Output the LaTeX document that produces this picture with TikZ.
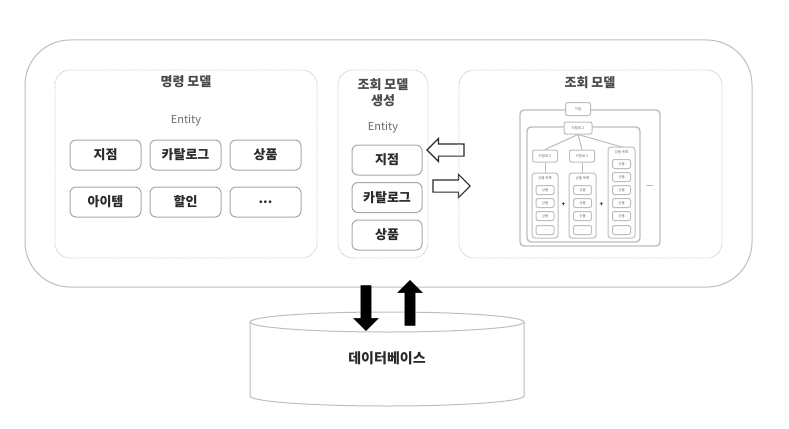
\documentclass[tikz,border=0pt]{standalone}
\usepackage{fontspec}
\setmainfont{Noto Sans CJK KR}
\usetikzlibrary{shapes.arrows}
\definecolor{frameg}{HTML}{BDBDBD}
\definecolor{dashg}{HTML}{C4C4C4}
\definecolor{boxg}{HTML}{A8A8A8}
\definecolor{txtd}{HTML}{2A2A2A}
\definecolor{txtm}{HTML}{4A4A4A}
\definecolor{txtl}{HTML}{6A6A6A}
\tikzset{
  zone/.style={draw=dashg, densely dotted, line width=0.9pt, rounded corners=15pt},
  ttl/.style={text=txtm, font=\fontsize{13}{15}\selectfont\bfseries},
  ent/.style={text=txtl, font=\fontsize{11}{13}\selectfont},
  ebox/.style={draw=boxg, line width=1pt, rounded corners=6pt, fill=white, minimum width=71pt, minimum height=30pt, text=txtd, font=\fontsize{13}{15}\selectfont\bfseries, inner sep=0pt},
  hollow/.style={single arrow, draw=txtd, fill=white, line width=1.1pt, minimum height=37pt, minimum width=22pt, single arrow head extend=5.5pt, inner xsep=0pt, inner ysep=5.5pt},
  solid/.style={single arrow, draw=black, fill=black, minimum height=45pt, minimum width=24pt, single arrow head extend=7pt, inner sep=5pt},
  mline/.style={draw=frameg, line width=1.4pt, rounded corners=4pt},
  mbox/.style={draw=frameg, line width=1pt, rounded corners=2pt, fill=white, text=txtl, font=\fontsize{3.5}{4}\selectfont, inner sep=0pt},
  conn/.style={draw=frameg, line width=1pt},
}
\begin{document}
\begin{tikzpicture}[x=1pt,y=-1pt]
\useasboundingbox (0,0) rectangle (789,428);
\fill[white] (0,0) rectangle (789,428);
% outer frame
\draw[frameg, line width=1pt, rounded corners=45pt] (25,40) rectangle (752,287);
% command model
\draw[zone] (55,70) rectangle (317,258);
\node[ttl] (cmdt) at (186,82) {명령 모델};
\node[ent] (cmde) at (186,121) {Entity};
\node[ebox] (c1) at (105.5,155) {지점};
\node[ebox] (c2) at (185.5,155) {카탈로그};
\node[ebox] (c3) at (265.5,155) {상품};
\node[ebox] (c4) at (105.5,202) {아이템};
\node[ebox] (c5) at (185.5,202) {할인};
\node[ebox] (c6) at (265.5,202) {...};
% middle
\draw[zone] (338,70) rectangle (428,258);
\node[ttl, align=center, font=\fontsize{13}{16}\selectfont\bfseries] (gent) at (383,93) {조회 모델\\생성};
\node[ent] (gene) at (383,128) {Entity};
\node[ebox, minimum width=70pt] (g1) at (387,160) {지점};
\node[ebox, minimum width=70pt] (g2) at (387,197.5) {카탈로그};
\node[ebox, minimum width=70pt] (g3) at (387,235) {상품};
% hollow arrows
\node[hollow, shape border rotate=180] (al) at (448.5,150) {};
\node[hollow] (ar) at (448.5,186) {};
% query model
\draw[zone] (459,70) rectangle (722,258);
\node[ttl] (qt) at (590,83) {조회 모델};
% nested diagram
\draw[mline] (520,110) rectangle (660,246);
\node[mbox, minimum width=25pt, minimum height=13pt] (m0) at (578,109) {지점};
\draw[mline] (527,127) rectangle (640,242);
\node[mbox, minimum width=28pt, minimum height=12pt] (mc) at (578,128) {카탈로그};
\node[mbox, minimum width=25pt, minimum height=12pt] (k1) at (545,156) {카탈로그};
\node[mbox, minimum width=25pt, minimum height=12pt] (k2) at (582,156) {카탈로그};
\draw[conn] (mc.south) -- (k1.north);
\draw[conn] (mc.south) -- (k2.north);
% columns
\draw[mline, line width=1pt, rounded corners=3pt] (532,173) rectangle (558,238);
\draw[mline, line width=1pt, rounded corners=3pt] (569,173) rectangle (596,238);
\draw[mline, line width=1pt, rounded corners=3pt] (608,147) rectangle (635,238);
\node[text=txtl, font=\fontsize{3.5}{4}\selectfont] (l1) at (545,178) {상품 목록};
\node[text=txtl, font=\fontsize{3.5}{4}\selectfont] (l2) at (582.5,178) {상품 목록};
\node[text=txtl, font=\fontsize{3.5}{4}\selectfont] (l3) at (621.5,152) {상품 목록};
\draw[conn] (mc.south) -- (l3.north);
\draw[conn] (k1.south) -- (545,173);
\draw[conn] (k2.south) -- (582,173);
\foreach \y [count=\i] in {190,203,216} {
  \node[mbox, minimum width=18pt, minimum height=9pt] (p1\i) at (545,\y) {상품};
  \node[mbox, minimum width=18pt, minimum height=9pt] (p2\i) at (582.5,\y) {상품};
}
\node[mbox, minimum width=18pt, minimum height=9pt] (p1d) at (545,230) {...};
\node[mbox, minimum width=18pt, minimum height=9pt] (p2d) at (582.5,230) {...};
\foreach \y [count=\i] in {164,177,190,203,216} {
  \node[mbox, minimum width=18pt, minimum height=9pt] (p3\i) at (621.5,\y) {상품};
}
\node[mbox, minimum width=18pt, minimum height=9pt] (p3d) at (621.5,230) {...};
\node[text=txtd, font=\fontsize{6}{6}\selectfont\bfseries] (plus1) at (563.5,205) {+};
\node[text=txtd, font=\fontsize{6}{6}\selectfont\bfseries] (plus2) at (601.5,205) {+};
\node[text=txtl, font=\fontsize{8}{8}\selectfont] (more) at (650,187) {—};
% database
\draw[frameg, line width=1pt, fill=white] (250,322) -- (250,396) arc[start angle=180, end angle=360, x radius=137pt, y radius=10pt] -- (524,322);
\draw[frameg, line width=1pt, fill=white] (387,322) ellipse[x radius=137pt, y radius=10pt];
\node[text=txtd, font=\fontsize{14}{16}\selectfont\bfseries] (db) at (387,358) {데이터베이스};
% solid arrows
\node[solid, shape border rotate=270] (ad) at (366,305.5) {};
\node[solid, shape border rotate=90] (au) at (410,305.5) {};
\end{tikzpicture}
\end{document}
